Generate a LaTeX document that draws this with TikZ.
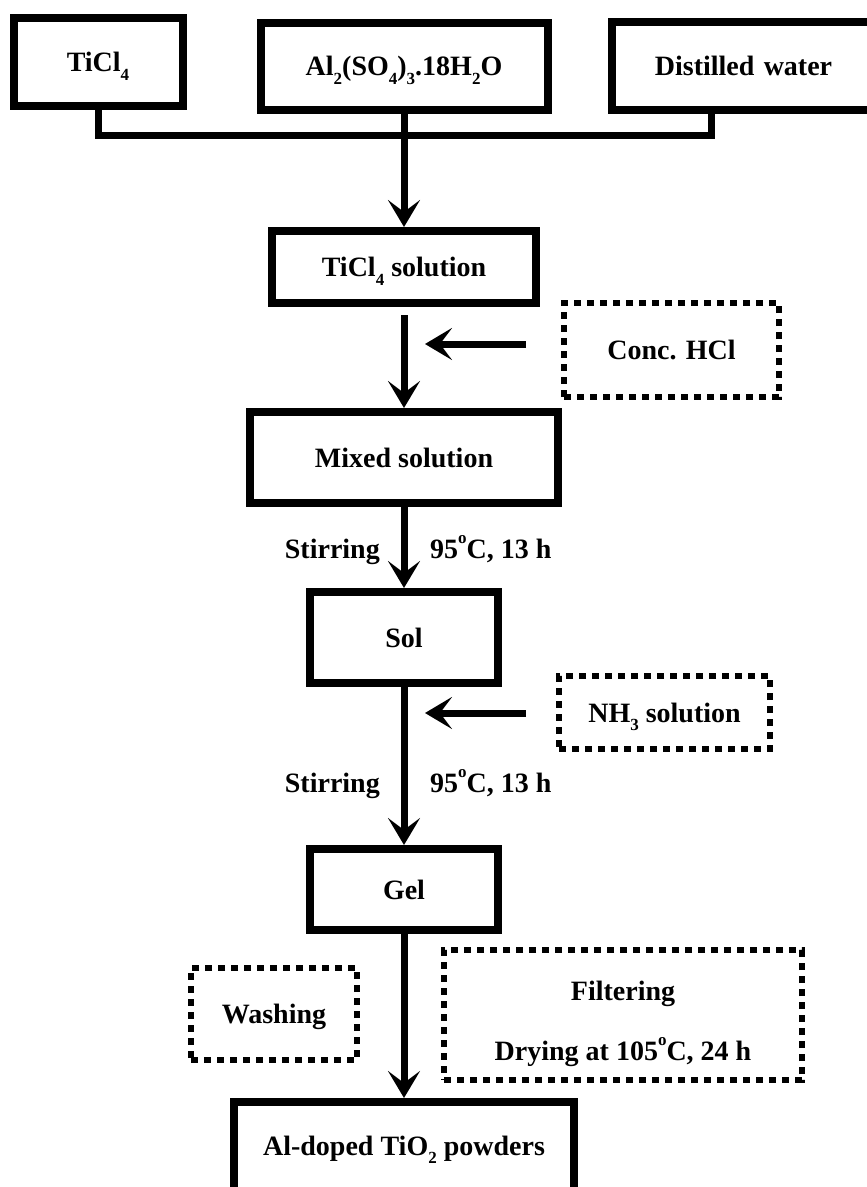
\documentclass[tikz,border=0pt]{standalone}
\usepackage{fontspec}
\setmainfont{Liberation Serif}
\usetikzlibrary{arrows.meta}
\newcommand\mysub[1]{\raisebox{-0.32em}{\fontsize{17}{17}\selectfont #1}}
\newcommand\mysup[1]{\raisebox{0.52em}{\fontsize{17}{17}\selectfont #1}}
\begin{document}
\begin{tikzpicture}[x=1pt,y=-1pt,
  font=\fontsize{28}{32}\selectfont\bfseries,
  box/.style={draw, line width=8pt, inner sep=0pt, align=center, text height=19pt, text depth=0pt},
  dbox/.style={draw, line width=6pt, dash pattern=on 7pt off 6pt, inner sep=0pt, align=center, text height=19pt, text depth=0pt},
  conn/.style={line width=7pt},
  arr/.style={line width=7pt, -{Stealth[length=27pt,width=32pt,inset=12pt]}},
  lbl/.style={inner sep=0pt}]
\useasboundingbox (0,0) rectangle (867,1187);
\clip (0,0) rectangle (867,1187);
% top row
\node[box, minimum width=169pt, minimum height=88pt] (ticl) at (98,62) {TiCl\mysub{4}};
\node[box, minimum width=287pt, minimum height=87pt] (al) at (404,66) {Al\mysub{2}(SO\mysub{4})\mysub{3}.18H\mysub{2}O};
\node[box, minimum width=263pt, minimum height=88pt, text width=230pt] (dist) at (743.5,66) {Distilled water\hspace*{7pt}};
\coordinate (dtap) at (711,114);
\coordinate (busL) at (98,135);
\coordinate (busR) at (711,135);
\draw[conn] (ticl.south) -- (busL) -- (busR) -- (dtap);
% main column
\node[box, minimum width=264pt, minimum height=72pt] (tsol) at (404,267) {TiCl\mysub{4} solution};
\draw[arr] (al.south) -- (tsol.north);
\node[dbox, minimum width=215pt, minimum height=94pt] (hcl) at (671.5,350) {Conc. HCl};
\coordinate (hclS) at (526,344);
\coordinate (hclE) at (425,344);
\draw[arr] (hclS) -- (hclE);
\node[box, minimum width=308pt, minimum height=91pt] (mix) at (404,457.5) {Mixed solution};
\coordinate (tsolS) at (404,315);
\draw[arr] (tsolS) -- (mix.north);
\node[box, minimum width=188pt, minimum height=91pt] (sol) at (404,637.5) {Sol};
\draw[arr] (mix.south) -- (sol.north);
\node[lbl, anchor=base east] (st1) at (380,558) {Stirring};
\node[lbl, anchor=base west] (tc1) at (430,558) {95\mysup{o}C, 13 h};
\node[dbox, minimum width=211pt, minimum height=73pt] (nh3) at (664.5,712.5) {NH\mysub{3} solution};
\coordinate (nhS) at (526,713);
\coordinate (nhE) at (425,713);
\draw[arr] (nhS) -- (nhE);
\node[box, minimum width=188pt, minimum height=81pt] (gel) at (404,889.5) {Gel};
\draw[arr] (sol.south) -- (gel.north);
\node[lbl, anchor=base east] (st2) at (380,792) {Stirring};
\node[lbl, anchor=base west] (tc2) at (430,792) {95\mysup{o}C, 13 h};
% bottom
\node[dbox, minimum width=166pt, minimum height=92pt] (wash) at (274,1014) {Washing};
\node[dbox, minimum width=358pt, minimum height=130pt] (filt) at (623,1015) {};
\node[lbl, anchor=base] (filtt) at (623,1000) {Filtering};
\node[lbl, anchor=base] (dryt) at (623,1060) {Drying at 105\mysup{o}C, 24 h};
\node[box, minimum width=340pt, minimum height=150pt] (prod) at (404,1177) {};
\node[lbl, anchor=base] (prodt) at (404,1155) {Al-doped TiO\mysub{2} powders};
\draw[arr] (gel.south) -- (prod.north);
\end{tikzpicture}
\end{document}
